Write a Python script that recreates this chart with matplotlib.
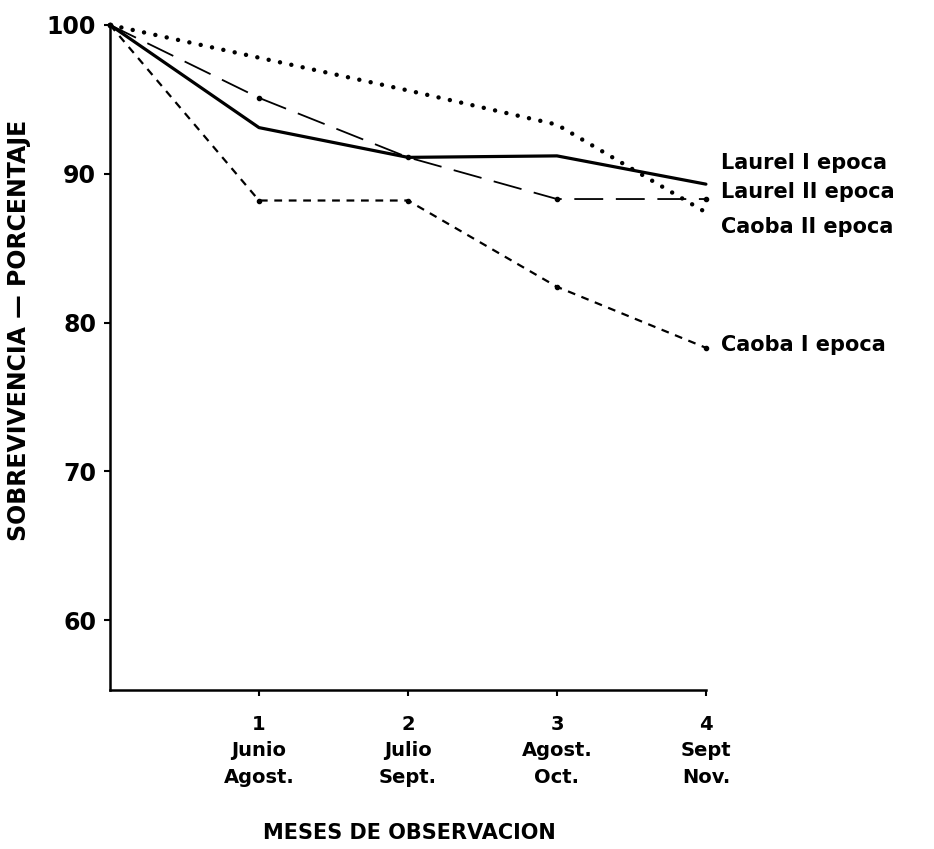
import matplotlib.pyplot as plt

# Survival (%) per month of observation
meses = [0, 1, 2, 3, 4]
laurel_1 = [100, 93.1, 91.1, 91.2, 89.3]
laurel_2 = [100, 95.1, 91.1, 88.3, 88.3]
caoba_2 = [100, 97.8, 95.6, 93.3, 87.4]
caoba_1 = [100, 88.2, 88.2, 82.4, 78.3]

tick_labels = ["1\nJunio\nAgost.", "2\nJulio\nSept.", "3\nAgost.\nOct.", "4\nSept\nNov."]
etiquetas = ["Laurel I epoca", "Laurel II epoca", "Caoba II epoca", "Caoba I epoca"]
etiqueta_y = [90.7, 88.8, 86.4, 78.5]

plt.rcParams["font.family"] = "DejaVu Sans"
plt.rcParams["font.weight"] = "bold"

fig = plt.figure(figsize=(9.34, 8.49), dpi=100)
ax = fig.add_axes([0.1178, 0.1873, 0.638, 0.7833])

ax.plot(meses, laurel_1, color="black", lw=2.3, solid_capstyle="round", clip_on=False)
ax.plot(meses, laurel_2, color="black", lw=1.3, linestyle=(0, (16, 7)),
        marker="o", markersize=3, clip_on=False)
ax.plot(meses, caoba_2, color="black", lw=3.2, linestyle=(0, (0.01, 2.6)),
        dash_capstyle="round", clip_on=False)
ax.plot(meses, caoba_1, color="black", lw=1.6, linestyle=(0, (3.5, 3)),
        marker="o", markersize=3, clip_on=False)

for txt, yv in zip(etiquetas, etiqueta_y):
    ax.text(4.1, yv, txt, fontsize=15, fontweight="bold", va="center", ha="left")

ax.set_xlim(0, 4)
ax.set_ylim(55.3, 100)
ax.set_xticks([1, 2, 3, 4])
ax.set_xticklabels(tick_labels, fontsize=14, fontweight="bold", linespacing=1.5)
ax.set_yticks([60, 70, 80, 90, 100])
ax.tick_params(axis="y", labelsize=17, length=4, width=1.5, pad=6)
ax.tick_params(axis="x", length=4, width=1.5, pad=14)

for s in ["top", "right"]:
    ax.spines[s].set_visible(False)
for s in ["left", "bottom"]:
    ax.spines[s].set_linewidth(1.8)

ax.set_xlabel("MESES DE OBSERVACION", fontsize=15, fontweight="bold")
ax.xaxis.set_label_coords(0.503, -0.2)
ax.set_ylabel("SOBREVIVENCIA — PORCENTAJE", fontsize=17, fontweight="bold")
ax.yaxis.set_label_coords(-0.133, 0.541)

plt.savefig("out.png", dpi=100)
